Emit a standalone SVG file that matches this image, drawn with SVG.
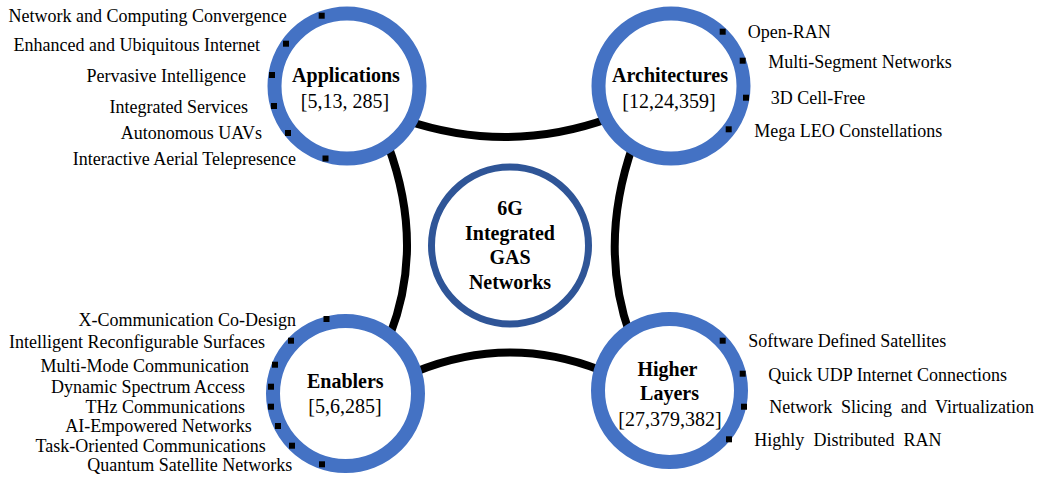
<svg xmlns="http://www.w3.org/2000/svg" width="1037" height="477" viewBox="0 0 1037 477">
<style>
.ring{fill:#fff;stroke:#4472C4;stroke-width:14}
.core{fill:#fff;stroke:#2F5597;stroke-width:7}
.conn{fill:none;stroke:#000;stroke-width:8}
.t{font-family:"Liberation Serif","Times New Roman",serif;font-size:18px;fill:#000}
.l{text-anchor:end}
.h{font-family:"Liberation Serif","Times New Roman",serif;font-size:20px;font-weight:bold;fill:#000;text-anchor:middle}
.r{font-family:"Liberation Serif","Times New Roman",serif;font-size:20px;fill:#000;text-anchor:middle}
.b{fill:#000}
</style>
<rect width="1037" height="477" fill="#fff"/>
<g id="connectors">
<path class="conn" d="M 405 120 Q 508 155 610 118"/>
<path class="conn" d="M 388 145 Q 425 245 390 335"/>
<path class="conn" d="M 633 145 Q 598 245 630 335"/>
<path class="conn" d="M 415 372 Q 508 334 600 370"/>
</g>
<g id="center">
<circle class="core" cx="510" cy="245.5" r="78.5"/>
<text class="h" x="510" y="215">6G</text>
<text class="h" x="510" y="239.5">Integrated</text>
<text class="h" x="510" y="264">GAS</text>
<text class="h" x="510" y="288.5">Networks</text>
</g>
<g id="applications">
<circle class="ring" cx="347" cy="86" r="72.5"/>
<text class="h" x="346" y="81.7">Applications</text>
<text class="r" x="345" y="108">[5,13, 285]</text>
<rect class="b" x="318.7" y="12.7" width="6" height="6"/>
<rect class="b" x="283" y="40.7" width="6" height="6"/>
<rect class="b" x="269" y="72" width="6" height="6"/>
<rect class="b" x="271" y="103" width="6" height="6"/>
<rect class="b" x="285" y="130" width="6" height="6"/>
<rect class="b" x="322.5" y="155.5" width="6" height="6"/>
<text class="t l" x="286.7" y="22.3">Network and Computing Convergence</text>
<text class="t l" x="260" y="50.7">Enhanced and Ubiquitous Internet</text>
<text class="t l" x="246" y="81.7">Pervasive Intelligence</text>
<text class="t l" x="248" y="113.3">Integrated Services</text>
<text class="t l" x="262" y="139.3">Autonomous UAVs</text>
<text class="t l" x="296" y="165">Interactive Aerial Telepresence</text>
</g>
<g id="architectures">
<circle class="ring" cx="671" cy="86" r="72.5"/>
<text class="h" x="670" y="81.7">Architectures</text>
<text class="r" x="669" y="108.3">[12,24,359]</text>
<rect class="b" x="719.7" y="28.7" width="6" height="6"/>
<rect class="b" x="739.7" y="57.7" width="6" height="6"/>
<rect class="b" x="743" y="94.7" width="6" height="6"/>
<rect class="b" x="725.7" y="126.3" width="6" height="6"/>
<text class="t" x="747.7" y="38.3">Open-RAN</text>
<text class="t" x="768.3" y="67.7">Multi-Segment Networks</text>
<text class="t" x="770.7" y="104.2">3D Cell-Free</text>
<text class="t" x="754.3" y="136.7">Mega LEO Constellations</text>
</g>
<g id="enablers">
<circle class="ring" cx="345.5" cy="393.5" r="72.5"/>
<text class="h" x="345.3" y="387.7">Enablers</text>
<text class="r" x="345" y="413.3">[5,6,285]</text>
<rect class="b" x="323.5" y="316" width="6" height="6"/>
<rect class="b" x="288" y="337.7" width="6" height="6"/>
<rect class="b" x="272" y="361.7" width="6" height="6"/>
<rect class="b" x="268" y="383.7" width="6" height="6"/>
<rect class="b" x="268" y="403.7" width="6" height="6"/>
<rect class="b" x="275" y="423" width="6" height="6"/>
<rect class="b" x="289" y="442.7" width="6" height="6"/>
<rect class="b" x="319" y="461.3" width="6" height="6"/>
<text class="t l" x="296" y="326">X-Communication Co-Design</text>
<text class="t l" x="265" y="347.7">Intelligent Reconfigurable Surfaces</text>
<text class="t l" x="249" y="371.7">Multi-Mode Communication</text>
<text class="t l" x="245" y="393.3">Dynamic Spectrum Access</text>
<text class="t l" x="245" y="413.3">THz Communications</text>
<text class="t l" x="251.7" y="431.7">AI-Empowered Networks</text>
<text class="t l" x="265.7" y="452.3">Task-Oriented Communications</text>
<text class="t l" x="292.3" y="471">Quantum Satellite Networks</text>
</g>
<g id="higher-layers">
<circle class="ring" cx="669.5" cy="390.5" r="71.5"/>
<text class="h" x="667.5" y="376">Higher</text>
<text class="h" x="669.5" y="400">Layers</text>
<text class="r" x="670" y="426">[27,379,382]</text>
<rect class="b" x="719.7" y="337.7" width="6" height="6"/>
<rect class="b" x="739.7" y="370.7" width="6" height="6"/>
<rect class="b" x="741" y="403.7" width="6" height="6"/>
<rect class="b" x="726" y="436.3" width="6" height="6"/>
<text class="t" x="748.3" y="347.3">Software Defined Satellites</text>
<text class="t" x="768.3" y="380.7">Quick UDP Internet Connections</text>
<text class="t" x="769.3" y="412.7" word-spacing="4.2">Network Slicing and Virtualization</text>
<text class="t" x="754.3" y="446" word-spacing="4.6">Highly Distributed RAN</text>
</g>
</svg>
